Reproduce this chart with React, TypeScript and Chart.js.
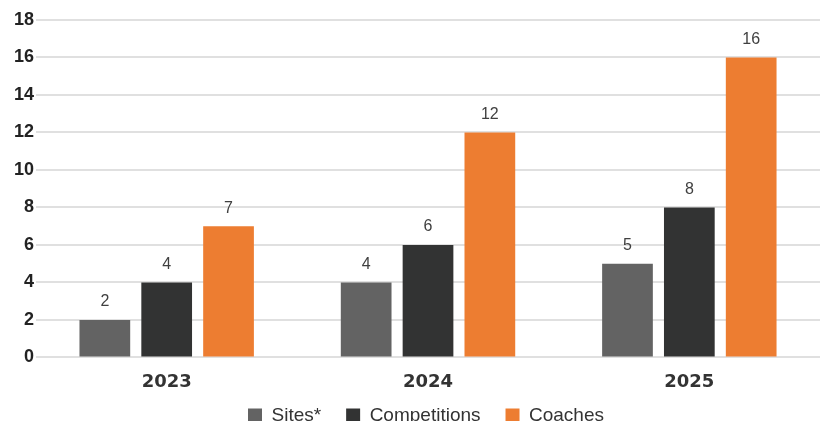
import React, { useEffect, useRef } from "react";
import { Chart, registerables } from "chart.js";

Chart.register(...registerables);

const categories = ["2023", "2024", "2025"];
const sites = [2, 4, 5];
const competitions = [4, 6, 8];
const coaches = [7, 12, 16];
const seriesNames = ["Sites*", "Competitions", "Coaches"];
const seriesColors = ["#636363", "#323333", "#ED7D31"];
const yTicks = [0, 2, 4, 6, 8, 10, 12, 14, 16, 18];

const valueLabels = {
  id: "valueLabels",
  afterDatasetsDraw(chart: any) {
    const ctx = chart.ctx;
    ctx.save();
    ctx.font = "16px 'Liberation Sans', Arial, sans-serif";
    ctx.fillStyle = "#404040";
    ctx.textAlign = "center";
    ctx.textBaseline = "middle";
    chart.data.datasets.forEach((ds: any, i: number) => {
      const meta = chart.getDatasetMeta(i);
      meta.data.forEach((bar: any, j: number) => {
        ctx.fillText(String(ds.data[j]), bar.x, bar.y - 18);
      });
    });
    ctx.restore();
  },
};

const legendShift = {
  id: "legendShift",
  afterLayout(chart: any) {
    const lg = chart.legend;
    if (lg) {
      lg.top -= 18;
      lg.bottom -= 18;
      lg.left += 10;
      lg.right += 10;
    }
  },
};

export default function App() {
  const ref = useRef<HTMLCanvasElement | null>(null);
  useEffect(() => {
    if (!ref.current) return;
    const data = [sites, competitions, coaches];
    const chart = new Chart(ref.current, {
      type: "bar",
      data: {
        labels: categories,
        datasets: seriesNames.map((name, i) => ({
          label: name,
          data: data[i],
          backgroundColor: seriesColors[i],
          borderWidth: 0,
          categoryPercentage: 0.71,
          barPercentage: 0.82,
        })),
      },
      options: {
        animation: false,
        responsive: false,
        maintainAspectRatio: false,
        layout: { padding: { left: 12, right: 7, top: 20, bottom: 0 } },
        plugins: {
          tooltip: { enabled: false },
          legend: {
            position: "bottom",
            labels: {
              boxWidth: 14,
              boxHeight: 14,
              padding: 25,
              color: "#333333",
              font: { family: "'Liberation Sans', Arial, sans-serif", size: 19 },
            },
          },
        },
        scales: {
          x: {
            grid: { display: false },
            border: { display: false },
            ticks: {
              color: "#333333",
              padding: 6,
              font: { family: "'DejaVu Sans', sans-serif", size: 18, weight: "bold" },
            },
          },
          y: {
            min: 0,
            max: 18,
            afterBuildTicks: (axis: any) => {
              axis.ticks = yTicks.map((v) => ({ value: v }));
            },
            grid: { color: "#e0e0e0", lineWidth: 2, drawTicks: false },
            border: { display: false },
            ticks: {
              color: "#222222",
              padding: 2,
              font: { family: "'Liberation Sans', Arial, sans-serif", size: 18, weight: "bold" },
            },
          },
        },
      },
      plugins: [valueLabels, legendShift],
    });
    return () => chart.destroy();
  }, []);
  return (
    <div style={{ position: "fixed", left: 0, top: 0, width: 827, height: 421, overflow: "hidden", background: "#fff" }}>
      <canvas ref={ref} width={827} height={453} style={{ display: "block" }} />
    </div>
  );
}
